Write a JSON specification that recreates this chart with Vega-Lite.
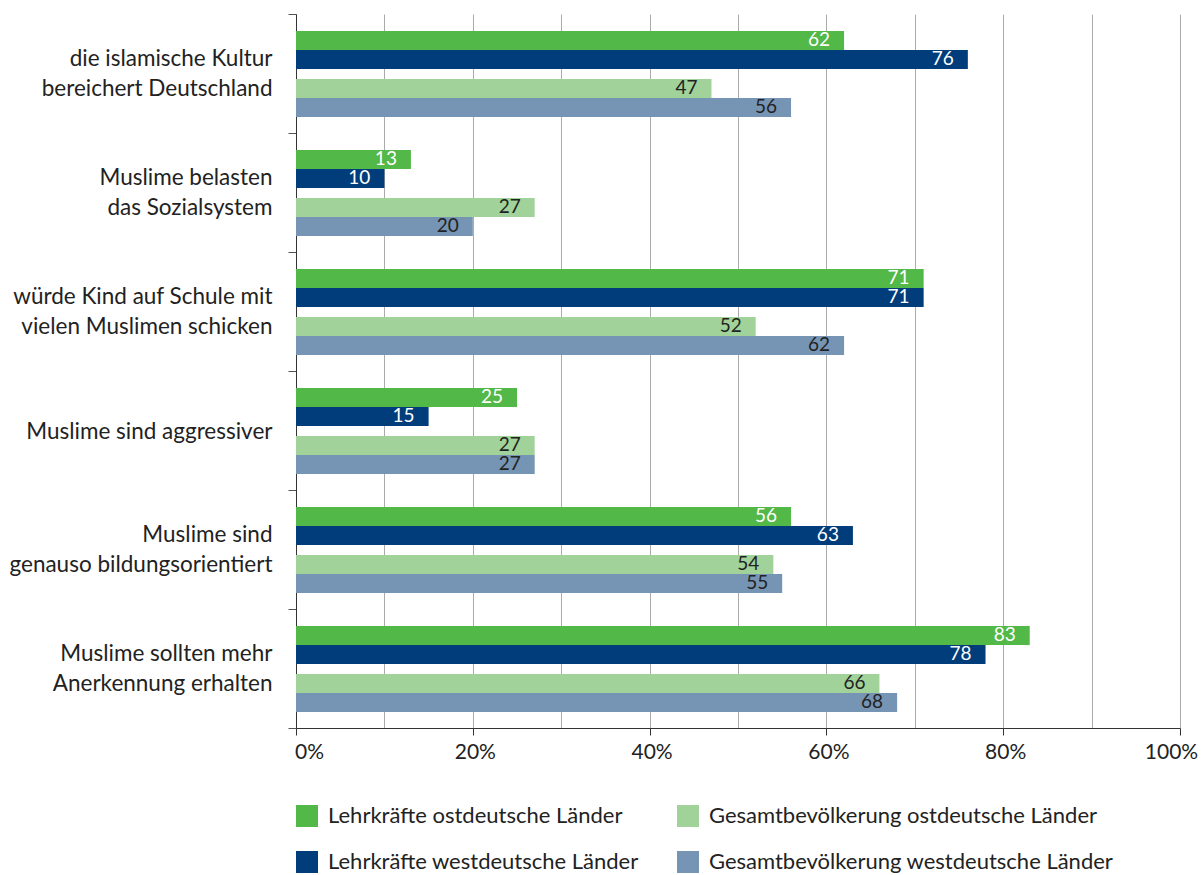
{
  "$schema": "https://vega.github.io/schema/vega-lite/v6.json",
  "autosize": "none",
  "padding": {"left": 296, "top": 14, "right": 23, "bottom": 147},
  "width": 884,
  "height": 714,
  "config": {"font": "Lato", "view": {"stroke": null}},
  "data": {"values": [
    {"aussage": "die islamische Kultur bereichert Deutschland", "reihe": "Lehrkräfte ostdeutsche Länder", "wert": 62},
    {"aussage": "die islamische Kultur bereichert Deutschland", "reihe": "Lehrkräfte westdeutsche Länder", "wert": 76},
    {"aussage": "die islamische Kultur bereichert Deutschland", "reihe": "Gesamtbevölkerung ostdeutsche Länder", "wert": 47},
    {"aussage": "die islamische Kultur bereichert Deutschland", "reihe": "Gesamtbevölkerung westdeutsche Länder", "wert": 56},
    {"aussage": "Muslime belasten das Sozialsystem", "reihe": "Lehrkräfte ostdeutsche Länder", "wert": 13},
    {"aussage": "Muslime belasten das Sozialsystem", "reihe": "Lehrkräfte westdeutsche Länder", "wert": 10},
    {"aussage": "Muslime belasten das Sozialsystem", "reihe": "Gesamtbevölkerung ostdeutsche Länder", "wert": 27},
    {"aussage": "Muslime belasten das Sozialsystem", "reihe": "Gesamtbevölkerung westdeutsche Länder", "wert": 20},
    {"aussage": "würde Kind auf Schule mit vielen Muslimen schicken", "reihe": "Lehrkräfte ostdeutsche Länder", "wert": 71},
    {"aussage": "würde Kind auf Schule mit vielen Muslimen schicken", "reihe": "Lehrkräfte westdeutsche Länder", "wert": 71},
    {"aussage": "würde Kind auf Schule mit vielen Muslimen schicken", "reihe": "Gesamtbevölkerung ostdeutsche Länder", "wert": 52},
    {"aussage": "würde Kind auf Schule mit vielen Muslimen schicken", "reihe": "Gesamtbevölkerung westdeutsche Länder", "wert": 62},
    {"aussage": "Muslime sind aggressiver", "reihe": "Lehrkräfte ostdeutsche Länder", "wert": 25},
    {"aussage": "Muslime sind aggressiver", "reihe": "Lehrkräfte westdeutsche Länder", "wert": 15},
    {"aussage": "Muslime sind aggressiver", "reihe": "Gesamtbevölkerung ostdeutsche Länder", "wert": 27},
    {"aussage": "Muslime sind aggressiver", "reihe": "Gesamtbevölkerung westdeutsche Länder", "wert": 27},
    {"aussage": "Muslime sind genauso bildungsorientiert", "reihe": "Lehrkräfte ostdeutsche Länder", "wert": 56},
    {"aussage": "Muslime sind genauso bildungsorientiert", "reihe": "Lehrkräfte westdeutsche Länder", "wert": 63},
    {"aussage": "Muslime sind genauso bildungsorientiert", "reihe": "Gesamtbevölkerung ostdeutsche Länder", "wert": 54},
    {"aussage": "Muslime sind genauso bildungsorientiert", "reihe": "Gesamtbevölkerung westdeutsche Länder", "wert": 55},
    {"aussage": "Muslime sollten mehr Anerkennung erhalten", "reihe": "Lehrkräfte ostdeutsche Länder", "wert": 83},
    {"aussage": "Muslime sollten mehr Anerkennung erhalten", "reihe": "Lehrkräfte westdeutsche Länder", "wert": 78},
    {"aussage": "Muslime sollten mehr Anerkennung erhalten", "reihe": "Gesamtbevölkerung ostdeutsche Länder", "wert": 66},
    {"aussage": "Muslime sollten mehr Anerkennung erhalten", "reihe": "Gesamtbevölkerung westdeutsche Länder", "wert": 68}
  ]},
  "encoding": {
    "y": {
      "field": "aussage", "type": "nominal",
      "sort": ["die islamische Kultur bereichert Deutschland", "Muslime belasten das Sozialsystem", "würde Kind auf Schule mit vielen Muslimen schicken", "Muslime sind aggressiver", "Muslime sind genauso bildungsorientiert", "Muslime sollten mehr Anerkennung erhalten"],
      "scale": {"paddingInner": 0, "paddingOuter": 0},
      "axis": {
        "title": null,
        "tickBand": "extent",
        "domainColor": "#333333",
        "tickColor": "#555555",
        "tickSize": 8,
        "labelPadding": 16,
        "labelFontSize": 22.5,
        "labelColor": "#222222",
        "labelLineHeight": 30,
        "labelLimit": 400,
        "labelOffset": {"condition": {"test": "datum.value == 'Muslime sind aggressiver'", "value": 1}, "value": -15},
        "labelExpr": "{'die islamische Kultur bereichert Deutschland': ['die islamische Kultur', 'bereichert Deutschland'], 'Muslime belasten das Sozialsystem': ['Muslime belasten', 'das Sozialsystem'], 'würde Kind auf Schule mit vielen Muslimen schicken': ['würde Kind auf Schule mit', 'vielen Muslimen schicken'], 'Muslime sind aggressiver': 'Muslime sind aggressiver', 'Muslime sind genauso bildungsorientiert': ['Muslime sind', 'genauso bildungsorientiert'], 'Muslime sollten mehr Anerkennung erhalten': ['Muslime sollten mehr', 'Anerkennung erhalten']}[datum.value]"
      }
    },
    "x": {
      "field": "wert", "type": "quantitative",
      "scale": {"domain": [0, 100], "nice": false},
      "axis": {
        "title": null,
        "values": [0, 10, 20, 30, 40, 50, 60, 70, 80, 90, 100],
        "grid": true,
        "gridColor": "#aaaaaa",
        "gridWidth": 1,
        "domainColor": "#333333",
        "tickColor": {"condition": {"test": "datum.value % 20 != 0", "value": "transparent"}, "value": "#333333"},
        "tickSize": 7,
        "labelFlush": false,
        "labelFontSize": 21,
        "labelColor": "#222222",
        "labelPadding": 6,
        "labelOffset": {"condition": [{"test": "datum.value == 0", "value": 13}, {"test": "datum.value == 100", "value": -9}], "value": 2},
        "labelExpr": "datum.value % 20 == 0 ? datum.value + '%' : ''"
      }
    }
  },
  "layer": [
    {
      "transform": [{"filter": {"field": "reihe", "oneOf": ["Lehrkräfte ostdeutsche Länder", "Lehrkräfte westdeutsche Länder"]}}],
      "encoding": {
        "yOffset": {"field": "reihe", "type": "nominal", "scale": {"domain": ["Lehrkräfte ostdeutsche Länder", "Lehrkräfte westdeutsche Länder", "Gesamtbevölkerung ostdeutsche Länder", "Gesamtbevölkerung westdeutsche Länder", "Abstand"], "paddingInner": 0, "paddingOuter": 0.632, "align": 0.708}}
      },
      "layer": [
        {
          "mark": {"type": "bar"},
          "encoding": {
            "color": {
              "field": "reihe", "type": "nominal",
              "scale": {"domain": ["Lehrkräfte ostdeutsche Länder", "Lehrkräfte westdeutsche Länder", "Gesamtbevölkerung ostdeutsche Länder", "Gesamtbevölkerung westdeutsche Länder"], "range": ["#52b848", "#003d7a", "#a0d29a", "#7694b3"]},
              "legend": {
                "title": null, "orient": "none", "legendX": 0, "legendY": 791, "columns": 2,
                "symbolType": "square", "symbolSize": 484, "symbolStrokeWidth": 0, "symbolOpacity": 1,
                "labelFontSize": 22, "labelColor": "#222222", "labelOffset": 10, "labelLimit": 500,
                "columnPadding": 38, "rowPadding": 24, "padding": 0
              }
            }
          }
        },
        {
          "mark": {"type": "text", "align": "right", "dx": -14, "fontSize": 19, "color": "#ffffff", "baseline": "middle"},
          "encoding": {"text": {"field": "wert", "type": "quantitative"}}
        }
      ]
    },
    {
      "transform": [{"filter": {"field": "reihe", "oneOf": ["Gesamtbevölkerung ostdeutsche Länder", "Gesamtbevölkerung westdeutsche Länder"]}}],
      "encoding": {
        "yOffset": {"field": "reihe", "type": "nominal", "scale": {"domain": ["Abstand", "Lehrkräfte ostdeutsche Länder", "Lehrkräfte westdeutsche Länder", "Gesamtbevölkerung ostdeutsche Länder", "Gesamtbevölkerung westdeutsche Länder"], "paddingInner": 0, "paddingOuter": 0.632, "align": 0.333}}
      },
      "layer": [
        {
          "mark": {"type": "bar"},
          "encoding": {
            "color": {"field": "reihe", "type": "nominal"}
          }
        },
        {
          "mark": {"type": "text", "align": "right", "dx": -14, "fontSize": 19, "color": "#222222", "baseline": "middle"},
          "encoding": {"text": {"field": "wert", "type": "quantitative"}}
        }
      ]
    }
  ],
  "resolve": {"scale": {"yOffset": "independent"}}
}
